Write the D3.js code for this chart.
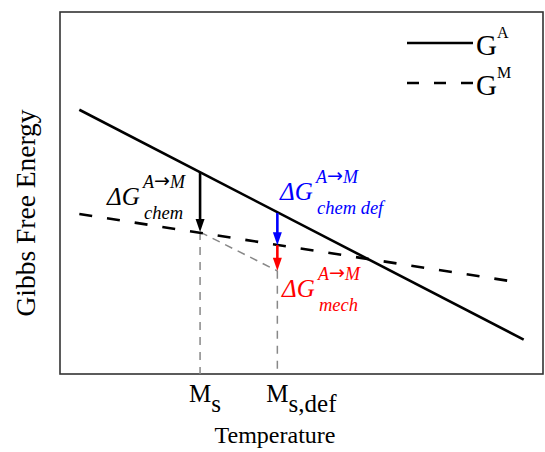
<!DOCTYPE html>
<html>
<head>
<meta charset="utf-8">
<script src="https://cdn.jsdelivr.net/npm/d3@7"></script>
<style>
  body { margin: 0; background: #fff; }
</style>
</head>
<body>
<div id="chart"></div>
<script>
// temperature (arbitrary units) and Gibbs energy (arbitrary units)
var tempA = [4, 96];
var gibbsA = [73, 9.5];
var tempM = [4, 93];
var gibbsM = [44.2, 25.7];

// transformation temperatures
var ms = 29;
var msDef = 45;

// driving force arrows: [temperature, from, to]
var arrowChem = [29, 55.8, 39.2];
var arrowChemDef = [45, 44.5, 35.6];
var arrowMech = [45, 35.6, 28.5];

var width = 545, height = 452;
var margin = {left: 60, right: 2, top: 12, bottom: 78};
var serif = "Liberation Serif";

var svg = d3.select('#chart').append('svg')
    .attr('width', width)
    .attr('height', height)
    .attr('font-family', serif);

var x = d3.scaleLinear().domain([0, 100]).range([margin.left, width - margin.right]);
var y = d3.scaleLinear().domain([0, 100]).range([height - margin.bottom, margin.top]);

// frame
svg.append('rect')
    .attr('x', x(0)).attr('y', y(100))
    .attr('width', x(100) - x(0)).attr('height', y(0) - y(100))
    .attr('fill', 'none')
    .attr('stroke', '#333')
    .attr('stroke-width', 1.6);

var line = d3.line().x(function(d){ return x(d[0]); }).y(function(d){ return y(d[1]); });

// guide lines (gray dashed)
var gray = '#888';
var dropDef = [[ms, arrowChem[2]], [msDef, arrowMech[2]]];
svg.append('path')
    .attr('d', line(dropDef))
    .attr('fill', 'none').attr('stroke', gray).attr('stroke-width', 1.5)
    .attr('stroke-dasharray', '8,6');
dropDef.forEach(function(p){
    svg.append('path')
        .attr('d', line([[p[0], p[1]], [p[0], 0]]))
        .attr('fill', 'none').attr('stroke', gray).attr('stroke-width', 1.5)
        .attr('stroke-dasharray', '8,7');
});

// G^A and G^M
svg.append('path')
    .attr('d', line(d3.zip(tempA, gibbsA)))
    .attr('fill', 'none').attr('stroke', '#000').attr('stroke-width', 2.6);
svg.append('path')
    .attr('d', line(d3.zip(tempM, gibbsM)))
    .attr('fill', 'none').attr('stroke', '#000').attr('stroke-width', 2.6)
    .attr('stroke-dasharray', '13,15');

// arrows
function arrow(a, color) {
    var xp = x(a[0]), y0 = y(a[1]), y1 = y(a[2]);
    var head = 13, hw = 4.5;
    svg.append('line')
        .attr('x1', xp).attr('x2', xp)
        .attr('y1', y0).attr('y2', y1 - head + 2)
        .attr('stroke', color).attr('stroke-width', 2.6);
    svg.append('path')
        .attr('d', 'M' + (xp - hw) + ',' + (y1 - head) + 'L' + (xp + hw) + ',' + (y1 - head) + 'L' + xp + ',' + y1 + 'Z')
        .attr('fill', color);
}
arrow(arrowChem, '#000');
arrow(arrowChemDef, '#0000ff');
arrow(arrowMech, '#ff0000');

// ΔG labels
function dgLabel(px, py, sub, color) {
    var g = svg.append('g').attr('fill', color).style('font-style', 'italic');
    g.append('text').attr('x', px).attr('y', py).attr('font-size', 25).text('\u0394G');
    var sup = g.append('text').attr('x', px + 36).attr('y', py - 17).attr('font-size', 18);
    sup.append('tspan').text('A');
    sup.append('tspan').attr('font-family', 'DejaVu Sans').style('font-style', 'normal')
        .attr('font-size', 19).attr('dy', -1).text('\u2192');
    sup.append('tspan').attr('dy', 1).text('M');
    g.append('text').attr('x', px + 37).attr('y', py + 14).attr('font-size', 18.5).text(sub);
}
dgLabel(107, 205, 'chem', '#000');
dgLabel(280, 200, 'chem def', '#0000ff');
dgLabel(282, 297, 'mech', '#ff0000');

// legend
var legend = [{name: 'A', dash: null, ly: 43}, {name: 'M', dash: '12,15', ly: 83}];
legend.forEach(function(d){
    svg.append('line')
        .attr('x1', 407).attr('x2', 473)
        .attr('y1', d.ly).attr('y2', d.ly)
        .attr('stroke', '#000').attr('stroke-width', 2.6)
        .attr('stroke-dasharray', d.dash);
    var t = svg.append('text').attr('x', 476).attr('y', d.ly + 12).attr('font-size', 29);
    t.append('tspan').text('G');
    t.append('tspan').attr('dy', -17).attr('font-size', 16).text(d.name);
});

// x tick labels
var ticks = [{v: ms, main: 'M', sub: 's'}, {v: msDef, main: 'M', sub: 's,def'}];
ticks.forEach(function(d){
    var t = svg.append('text').attr('x', x(d.v) - 11).attr('y', 402).attr('font-size', 25);
    t.append('tspan').text(d.main);
    t.append('tspan').attr('dy', 10).attr('font-size', 25).text(d.sub);
});

// axis titles
svg.append('text')
    .attr('x', 275).attr('y', 443)
    .attr('text-anchor', 'middle')
    .attr('font-size', 24)
    .text('Temperature');
svg.append('text')
    .attr('transform', 'translate(35,' + 213 + ') rotate(-90)')
    .attr('text-anchor', 'middle')
    .attr('font-size', 27.5)
    .text('Gibbs Free Energy');
</script>
</body>
</html>
